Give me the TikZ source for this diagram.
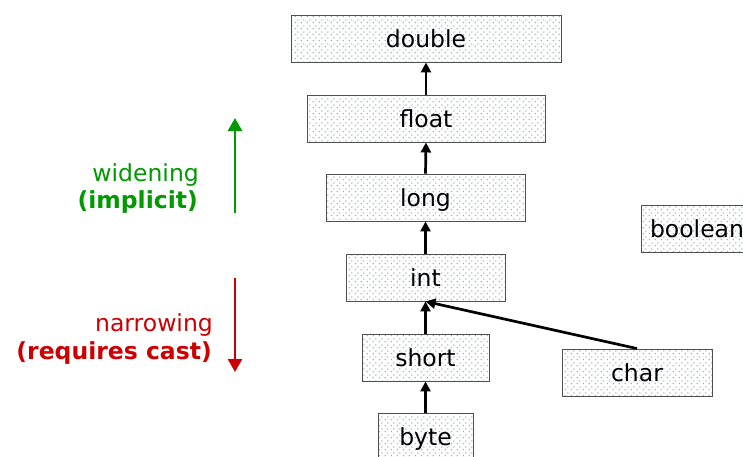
\documentclass[tikz,border=0pt]{standalone}
\usepackage{fontspec}
\setmainfont{DejaVu Sans}
\usetikzlibrary{arrows.meta,patterns}
\definecolor{wgreen}{RGB}{0,153,0}
\definecolor{nred}{RGB}{204,0,0}
\definecolor{dotc}{RGB}{150,165,195}
\definecolor{boxline}{RGB}{80,80,80}
\pgfdeclarepatternformonly{sdots}{\pgfqpoint{0pt}{0pt}}{\pgfqpoint{6pt}{6pt}}{\pgfqpoint{6pt}{6pt}}{%
  \pgfpathcircle{\pgfqpoint{1.5pt}{1.5pt}}{0.85pt}%
  \pgfpathcircle{\pgfqpoint{4.5pt}{4.5pt}}{0.85pt}%
  \pgfusepath{fill}}
\tikzset{
  typebox/.style={draw=boxline, line width=0.9pt, preaction={fill=white}, pattern=sdots, pattern color=dotc,
    minimum height=47pt, inner sep=0pt, text height=18pt, text depth=0pt,
    font=\fontsize{23.5pt}{28pt}\selectfont},
  conv/.style={line width=2.7pt, -{Triangle[length=10pt,width=10pt]}},
  bigarr/.style={line width=2.8pt, -{Triangle[length=13pt,width=14pt]}},
  lbl/.style={anchor=base east, inner sep=0pt, font=\fontsize{23.5pt}{28pt}\selectfont}
}
\begin{document}
\begin{tikzpicture}[x=1pt,y=-1pt]
\useasboundingbox (0,0) rectangle (743,456);
\clip (0,0) rectangle (743,456);
\node[typebox, minimum width=270pt] (double) at (426,38.5) {double};
\node[typebox, minimum width=238pt] (float) at (426,118.5) {float};
\node[typebox, minimum width=199pt] (long) at (425.5,197.5) {long};
\node[typebox, minimum width=159pt] (int) at (425.5,277.5) {int};
\node[typebox, minimum width=127pt] (short) at (425.5,357.5) {short};
\node[typebox, minimum width=95pt] (byte) at (425.5,436.5) {byte};
\node[typebox, minimum width=150pt] (char) at (637,372.5) {char};
\node[typebox, minimum width=112pt] (boolean) at (697,228.5) {boolean};
\draw[conv] (float.north) -- (double.south);
\draw[conv] (long.north) -- (float.south);
\draw[conv] (int.north) -- (long.south);
\draw[conv] (short.north) -- (int.south);
\draw[conv] (byte.north) -- (short.south);
\draw[conv] (char.north) -- (int.south);
\coordinate (g1) at (235,213);
\coordinate (g2) at (235,118);
\coordinate (r1) at (235,278);
\coordinate (r2) at (235,372);
\draw[bigarr, wgreen] (g1) -- (g2);
\draw[bigarr, nred] (r1) -- (r2);
\node[lbl, text=wgreen] (wid) at (199,181) {widening};
\node[lbl, text=wgreen] (imp) at (198,208) {\textbf{(implicit)}};
\node[lbl, text=nred] (nar) at (213,331) {narrowing};
\node[lbl, text=nred] (req) at (212,359) {\textbf{(requires cast)}};
\end{tikzpicture}
\end{document}
